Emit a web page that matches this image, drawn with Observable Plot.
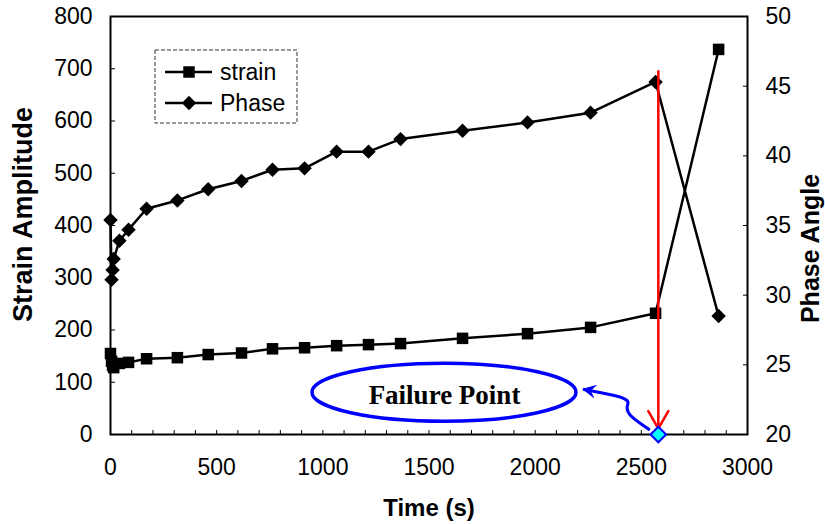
<!DOCTYPE html>
<html><head><meta charset="utf-8">
<script src="https://cdn.jsdelivr.net/npm/d3@7"></script>
<script src="https://cdn.jsdelivr.net/npm/@observablehq/plot@0.6"></script>
<style>body{margin:0;background:#fff;}</style>
</head><body><div id="chart"></div>
<script>
// ---- data ----
const times  = [0, 5, 10, 15, 42, 85, 170, 315, 460, 617, 763, 914, 1065, 1215, 1366, 1658, 1964, 2261, 2567, 2864];
const strain = [155, 140, 132, 128, 136, 138, 145, 147, 153, 156, 164, 166, 170, 172, 174, 184, 193, 205, 232, 737];
const phase  = [35.4, 31.1, 31.8, 32.6, 33.9, 34.7, 36.2, 36.8, 37.6, 38.2, 39.0, 39.1, 40.3, 40.3, 41.2, 41.8, 42.4, 43.1, 45.3, 28.5];
const xTickLabels = [0, 500, 1000, 1500, 2000, 2500, 3000];
const xMinorTicks = d3.range(0, 3001, 100);
const leftTicks = [0, 100, 200, 300, 400, 500, 600, 700, 800];
const rightTicks = [20, 25, 30, 35, 40, 45, 50];
const failTime = 2580, failStrain = 0, arrowTop = 695;
const labelTime = 1573, labelStrain = 80;
const seriesNames = ["strain", "Phase"];

// map phase (right axis 20..50) onto the left scale (0..800)
const toLeft = p => (p - 20) * 800 / 30;
const fromLeft = v => v * 30 / 800 + 20;
const rows = times.map((t, i) => ({t, strain: strain[i], phase: toLeft(phase[i])}));
const failure = [{t: failTime, s: failStrain, top: arrowTop}];
const label = [{t: labelTime, s: labelStrain, text: "Failure Point"}];

function annotations(index, scales, values, dims) {
  const g = d3.create("svg:g");
  const defs = g.append("defs");
  defs.append("marker").attr("id", "bluehead").attr("markerUnits", "userSpaceOnUse")
    .attr("markerWidth", 16).attr("markerHeight", 14).attr("refX", 13).attr("refY", 7)
    .attr("orient", "auto")
    .append("path").attr("d", "M0,0 L14,7 L0,14 L5,7 Z").attr("fill", "#0000ff");
  const cx = scales.x(labelTime), cy = scales.y(labelStrain);
  const rx = 132, ry = 29;
  g.append("ellipse").attr("cx", cx).attr("cy", cy).attr("rx", rx).attr("ry", ry)
    .attr("fill", "none").attr("stroke", "#0000ff").attr("stroke-width", 3.5);
  const fx = scales.x(failTime), fy = scales.y(failStrain);
  const ex = cx + rx + 7, ey = cy - 3;
  g.append("path")
    .attr("d", `M${fx-8},${fy-4} C${fx-22},${fy-14} ${fx-34},${fy-20} ${fx-30},${fy-30} C${fx-27},${fy-37} ${fx-50},${fy-40} ${ex},${ey}`)
    .attr("fill", "none").attr("stroke", "#0000ff").attr("stroke-width", 3)
    .attr("marker-end", "url(#bluehead)");
  // legend
  const lx = dims.marginLeft + 45, ly = dims.marginTop + 34;
  const lg = g.append("g");
  lg.append("rect").attr("x", lx).attr("y", ly).attr("width", 142).attr("height", 73)
    .attr("fill", "white").attr("stroke", "#333").attr("stroke-width", 1).attr("stroke-dasharray", "4,2");
  const syms = [d3.symbolSquare, d3.symbolDiamond2];
  const sizes = [Math.PI * 42, Math.PI * 42];
  seriesNames.forEach((name, i) => {
    const yy = ly + 22 + i * 31;
    lg.append("line").attr("x1", lx + 10).attr("x2", lx + 57).attr("y1", yy).attr("y2", yy)
      .attr("stroke", "black").attr("stroke-width", 2.5);
    lg.append("path").attr("transform", `translate(${lx + 34},${yy})`)
      .attr("d", d3.symbol(syms[i], sizes[i])()).attr("fill", "black").attr("stroke", "none");
    lg.append("text").attr("x", lx + 65).attr("y", yy).attr("dy", "0.35em")
      .attr("text-anchor", "start").attr("font-size", 23).attr("fill", "black").text(name);
  });
  return g.node();
}

const plot = Plot.plot({
  width: 825, height: 524,
  marginTop: 16, marginRight: 78, marginBottom: 90, marginLeft: 110,
  style: {fontFamily: "'Liberation Sans', Arial, sans-serif", fontSize: "23px", color: "black", background: "white"},
  x: {domain: [0, 3000]},
  y: {domain: [0, 800]},
  marks: [
    Plot.axisX(xMinorTicks, {tickSize: -4, tickFormat: () => "", label: null}),
    Plot.axisX(xTickLabels, {tickSize: 0, tickPadding: 24, label: null, fontSize: 23, tickFormat: d3.format("d")}),
    Plot.axisY(leftTicks, {anchor: "left", tickSize: -5, tickPadding: 23, label: null, fontSize: 23, tickFormat: d3.format("d")}),
    Plot.axisY(rightTicks.map(toLeft), {anchor: "right", tickSize: -5, tickPadding: 23, label: null, fontSize: 23,
      tickFormat: d => Math.round(fromLeft(d))}),
    Plot.frame({stroke: "black", strokeWidth: 2}),
    Plot.text(["Time (s)"], {text: d => d, frameAnchor: "bottom", dy: 74, lineAnchor: "middle", textAnchor: "middle", fontWeight: "bold", fontSize: 24}),
    Plot.text(["Strain Amplitude"], {text: d => d, frameAnchor: "left", dx: -87, dy: -11, rotate: -90, lineAnchor: "middle", textAnchor: "middle", fontWeight: "bold", fontSize: 27}),
    Plot.text(["Phase Angle"], {text: d => d, frameAnchor: "right", dx: 63, dy: 23, rotate: -90, lineAnchor: "middle", textAnchor: "middle", fontWeight: "bold", fontSize: 25}),
    Plot.line(rows, {x: "t", y: "strain", stroke: "black", strokeWidth: 2.5}),
    Plot.line(rows, {x: "t", y: "phase", stroke: "black", strokeWidth: 2.5}),
    Plot.dot(rows, {x: "t", y: "strain", symbol: "square", r: 6.5, fill: "black", stroke: "none"}),
    Plot.dot(rows, {x: "t", y: "phase", symbol: "diamond2", r: 6.5, fill: "black", stroke: "none"}),
    annotations,
    Plot.text(label, {x: "t", y: "s", text: "text", dy: 3, fontFamily: "'Liberation Serif', 'Times New Roman', serif", fontWeight: "bold", fontSize: 27}),
    Plot.arrow(failure, {x1: "t", x2: "t", y1: "top", y2: "s", stroke: "red", strokeWidth: 2.5, headLength: 12, insetEnd: 6}),
    Plot.dot(failure, {x: "t", y: "s", symbol: "diamond2", r: 7, fill: "#00ffff", stroke: "#0000ff", strokeWidth: 2})
  ]
});
document.getElementById("chart").appendChild(plot);
</script>
</body></html>
